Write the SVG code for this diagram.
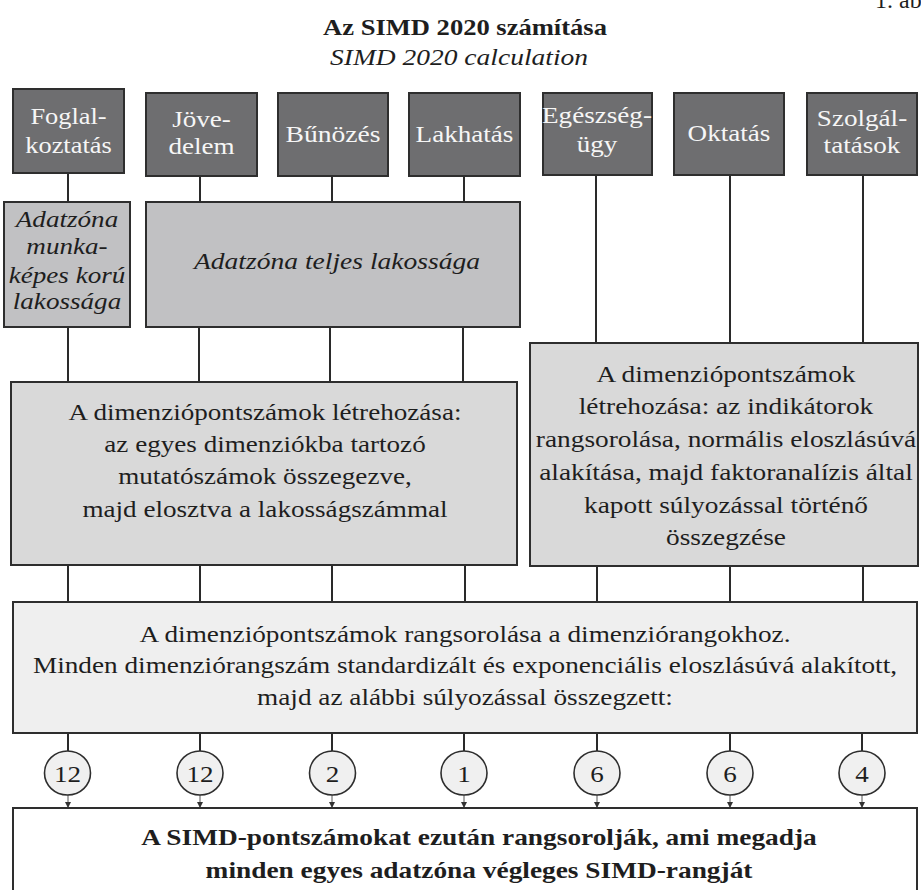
<svg xmlns="http://www.w3.org/2000/svg" width="921" height="890" viewBox="0 0 921 890">
<defs>
<style>
text{font-family:"Liberation Serif","Times New Roman",serif;font-size:24px;fill:#1e1e1e;text-anchor:middle}
.w{fill:#f6f6f6}
.it{font-style:italic}
.b{font-weight:bold}
.dark{fill:#6e6e70;stroke:#2e2e2e;stroke-width:2}
.mid{fill:#c1c1c3;stroke:#2e2e2e;stroke-width:2}
.lt{fill:#d9d9d9;stroke:#2e2e2e;stroke-width:2}
.xl{fill:#efefef;stroke:#2e2e2e;stroke-width:2}
.wh{fill:#ffffff;stroke:#2e2e2e;stroke-width:2}
.c{fill:#f0f0f0;stroke:#2e2e2e;stroke-width:1.6}
.ln{stroke:#2a2a2a;stroke-width:2;fill:none}
.ar{stroke:#555;stroke-width:1;fill:none}
</style>
<marker id="ah" markerUnits="userSpaceOnUse" markerWidth="7" markerHeight="7" refX="6" refY="3" orient="auto">
<path d="M0,0 L6,3 L0,6 z" fill="#333"/>
</marker>
</defs>
<rect width="921" height="890" fill="#ffffff"/>

<g id="header">
<text x="875" y="8" style="text-anchor:start">1. ab</text>
<g transform="translate(465 0) scale(1.107 1)"><text class="b" x="0" y="35">Az SIMD 2020 számítása</text></g>
<g transform="translate(459 0) scale(1.146 1)"><text class="it" x="0" y="65">SIMD 2020 calculation</text></g>
</g>

<g id="connectors">
<path class="ln" d="M68 173V202M68 327V382M200 176V202M199 327V382M332 176V202M330 327V382M464 176V202M463 327V382M596 175V343M730 175V343M863 175V343"/>
<path class="ln" d="M68 565V602M200 565V602M332 565V602M465 565V602M597 566V602M730 566V602M863 566V602"/>
<path class="ln" d="M68 733V751M200 733V751M332 733V751M464 733V751M597 733V751M730 733V751M862 733V751"/>
<path class="ar" marker-end="url(#ah)" d="M68 795V808"/>
<path class="ar" marker-end="url(#ah)" d="M200 795V808"/>
<path class="ar" marker-end="url(#ah)" d="M332 795V808"/>
<path class="ar" marker-end="url(#ah)" d="M464 795V808"/>
<path class="ar" marker-end="url(#ah)" d="M597 795V808"/>
<path class="ar" marker-end="url(#ah)" d="M730 795V808"/>
<path class="ar" marker-end="url(#ah)" d="M862 795V808"/>
</g>

<g id="n-foglalkoztatas"><rect class="dark" x="13" y="89" width="111" height="84"/>
<g transform="translate(68.5 0) scale(1.1 1)"><text class="w" x="0" y="124">Foglal-</text><text class="w" x="0" y="153">koztatás</text></g></g>
<g id="n-jovedelem"><rect class="dark" x="146" y="93" width="111" height="83"/>
<g transform="translate(201.5 0) scale(1.13 1)"><text class="w" x="0" y="127">Jöve-</text><text class="w" x="0" y="154">delem</text></g></g>
<g id="n-bunozes"><rect class="dark" x="278" y="93" width="110" height="83"/>
<g transform="translate(333 0) scale(1.15 1)"><text class="w" x="0" y="142">Bűnözés</text></g></g>
<g id="n-lakhatas"><rect class="dark" x="409" y="93" width="111" height="83"/>
<g transform="translate(464.5 0) scale(1.13 1)"><text class="w" x="0" y="142">Lakhatás</text></g></g>
<g id="n-egeszsegugy"><rect class="dark" x="543" y="93" width="109" height="82"/>
<g transform="translate(597 0) scale(1.13 1)"><text class="w" x="0" y="123">Egészség-</text><text class="w" x="0" y="152">ügy</text></g></g>
<g id="n-oktatas"><rect class="dark" x="674" y="93" width="110" height="82"/>
<g transform="translate(729 0) scale(1.13 1)"><text class="w" x="0" y="141">Oktatás</text></g></g>
<g id="n-szolgaltatasok"><rect class="dark" x="807" y="93" width="110" height="82"/>
<g transform="translate(862 0) scale(1.13 1)"><text class="w" x="0" y="126">Szolgál-</text><text class="w" x="0" y="153">tatások</text></g></g>

<g id="n-munkakepes"><rect class="mid" x="4" y="202" width="126" height="125"/>
<g transform="translate(67 0) scale(1.13 1)"><text class="it" x="0" y="227">Adatzóna</text><text class="it" x="0" y="254">munka-</text><text class="it" x="0" y="283">képes korú</text><text class="it" x="0" y="309">lakossága</text></g></g>
<g id="n-teljes"><rect class="mid" x="146" y="202" width="374" height="125"/>
<g transform="translate(337 0) scale(1.148 1)"><text class="it" x="0" y="269">Adatzóna teljes lakossága</text></g></g>

<g id="n-dimleft"><rect class="lt" x="11" y="382" width="506" height="183"/>
<g transform="translate(265 0) scale(1.13 1)"><text x="0" y="420">A dimenziópontszámok létrehozása:</text><text x="0" y="452">az egyes dimenziókba tartozó</text><text x="0" y="484">mutatószámok összegezve,</text><text x="0" y="517">majd elosztva a lakosságszámmal</text></g></g>
<g id="n-dimright"><rect class="lt" x="530" y="343" width="388" height="223"/>
<g transform="translate(726 0) scale(1.14 1)"><text x="0" y="382">A dimenziópontszámok</text><text x="0" y="414">létrehozása: az indikátorok</text><text x="0" y="447">rangsorolása, normális eloszlásúvá</text><text x="0" y="480">alakítása, majd faktoranalízis által</text><text x="0" y="513">kapott súlyozással történő</text><text x="0" y="545">összegzése</text></g></g>

<g id="n-rang"><rect class="xl" x="13" y="602" width="904" height="131"/>
<g transform="translate(465 0) scale(1.135 1)"><text x="0" y="642">A dimenziópontszámok rangsorolása a dimenziórangokhoz.</text><text x="0" y="673">Minden dimenziórangszám standardizált és exponenciális eloszlásúvá alakított,</text><text x="0" y="705">majd az alábbi súlyozással összegzett:</text></g></g>

<g id="n-w1"><ellipse class="c" cx="67.5" cy="773" rx="23" ry="22"/><g transform="translate(67.5 0) scale(1.13 1)"><text x="0" y="782">12</text></g></g>
<g id="n-w2"><ellipse class="c" cx="200" cy="773" rx="23" ry="22"/><g transform="translate(200 0) scale(1.13 1)"><text x="0" y="782">12</text></g></g>
<g id="n-w3"><ellipse class="c" cx="332.5" cy="773" rx="23" ry="22"/><g transform="translate(332.5 0) scale(1.13 1)"><text x="0" y="782">2</text></g></g>
<g id="n-w4"><ellipse class="c" cx="464" cy="773" rx="23" ry="22"/><g transform="translate(464 0) scale(1.13 1)"><text x="0" y="782">1</text></g></g>
<g id="n-w5"><ellipse class="c" cx="597" cy="773" rx="23" ry="22"/><g transform="translate(597 0) scale(1.13 1)"><text x="0" y="782">6</text></g></g>
<g id="n-w6"><ellipse class="c" cx="730" cy="773" rx="23" ry="22"/><g transform="translate(730 0) scale(1.13 1)"><text x="0" y="782">6</text></g></g>
<g id="n-w7"><ellipse class="c" cx="862" cy="773" rx="23" ry="22"/><g transform="translate(862 0) scale(1.13 1)"><text x="0" y="782">4</text></g></g>

<g id="n-simd"><rect class="wh" x="13" y="808" width="904" height="100"/>
<g transform="translate(479 0) scale(1.14 1)"><text class="b" x="0" y="845">A SIMD-pontszámokat ezután rangsorolják, ami megadja</text><text class="b" x="0" y="878">minden egyes adatzóna végleges SIMD-rangját</text></g></g>
</svg>
